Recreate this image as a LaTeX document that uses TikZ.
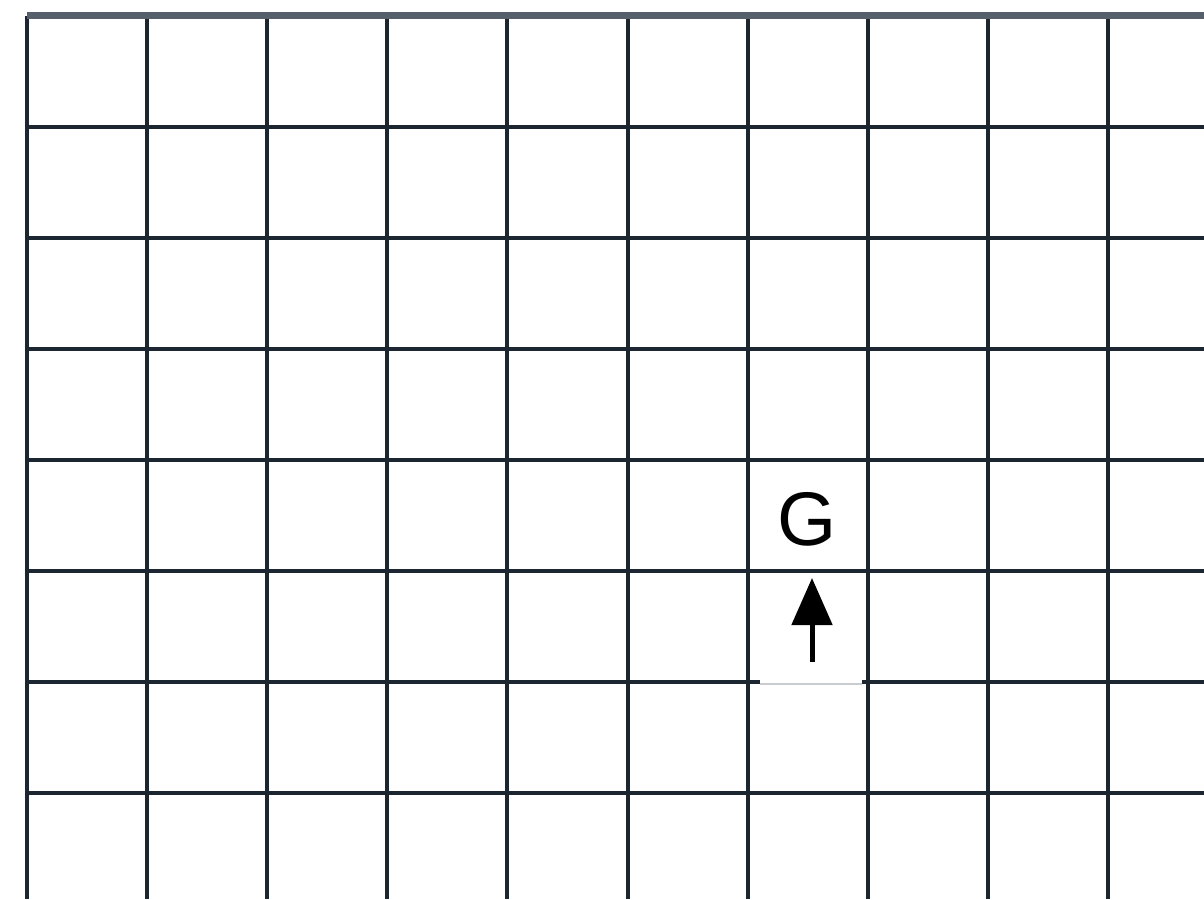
\documentclass[tikz,border=0pt]{standalone}
\usepackage{fontspec}
\setmainfont{Liberation Sans}
\usepackage{xcolor}
\definecolor{gridcol}{HTML}{1C2630}
\definecolor{topcol}{HTML}{55606A}
\definecolor{gapcol}{HTML}{C8CCD0}
\usepackage{tikz}
\usetikzlibrary{arrows.meta,positioning}

\begin{document}
\begin{tikzpicture}[x=0.5pt,y=-0.5pt,
                    gridline/.style={draw=gridcol,line width=2pt},
                    topline/.style={draw=topcol,line width=3.5pt},
                    gapline/.style={draw=gapcol,line width=1pt},
                    goal/.style={font=\fontsize{38}{42}\selectfont,inner sep=0pt}]
    \useasboundingbox[fill=white] (0,0) rectangle (1204,899);

    % vertical lines
    \foreach \i in {0,...,9}
      \draw[gridline] ({27+120.1*\i},16) -- ({27+120.1*\i},899);
    % horizontal lines
    \draw[topline] (27,16) -- (1204,16);
    \foreach \j in {1,...,5,7}
      \draw[gridline] (27,{16+111*\j}) -- (1204,{16+111*\j});
    % broken line under the goal
    \draw[gridline] (27,682) -- (760,682);
    \draw[gridline] (862,682) -- (1204,682);
    \draw[gapline] (760,684) -- (862,684);

    \node[goal] (G) at (807,519) {G};
    \coordinate (start) at (812,662);
    \coordinate (tip) at (812,578);
    \draw[-{Triangle[length=23.5pt,width=20pt]},line width=2.5pt] (start) -- (tip);
  \end{tikzpicture}
\end{document}
